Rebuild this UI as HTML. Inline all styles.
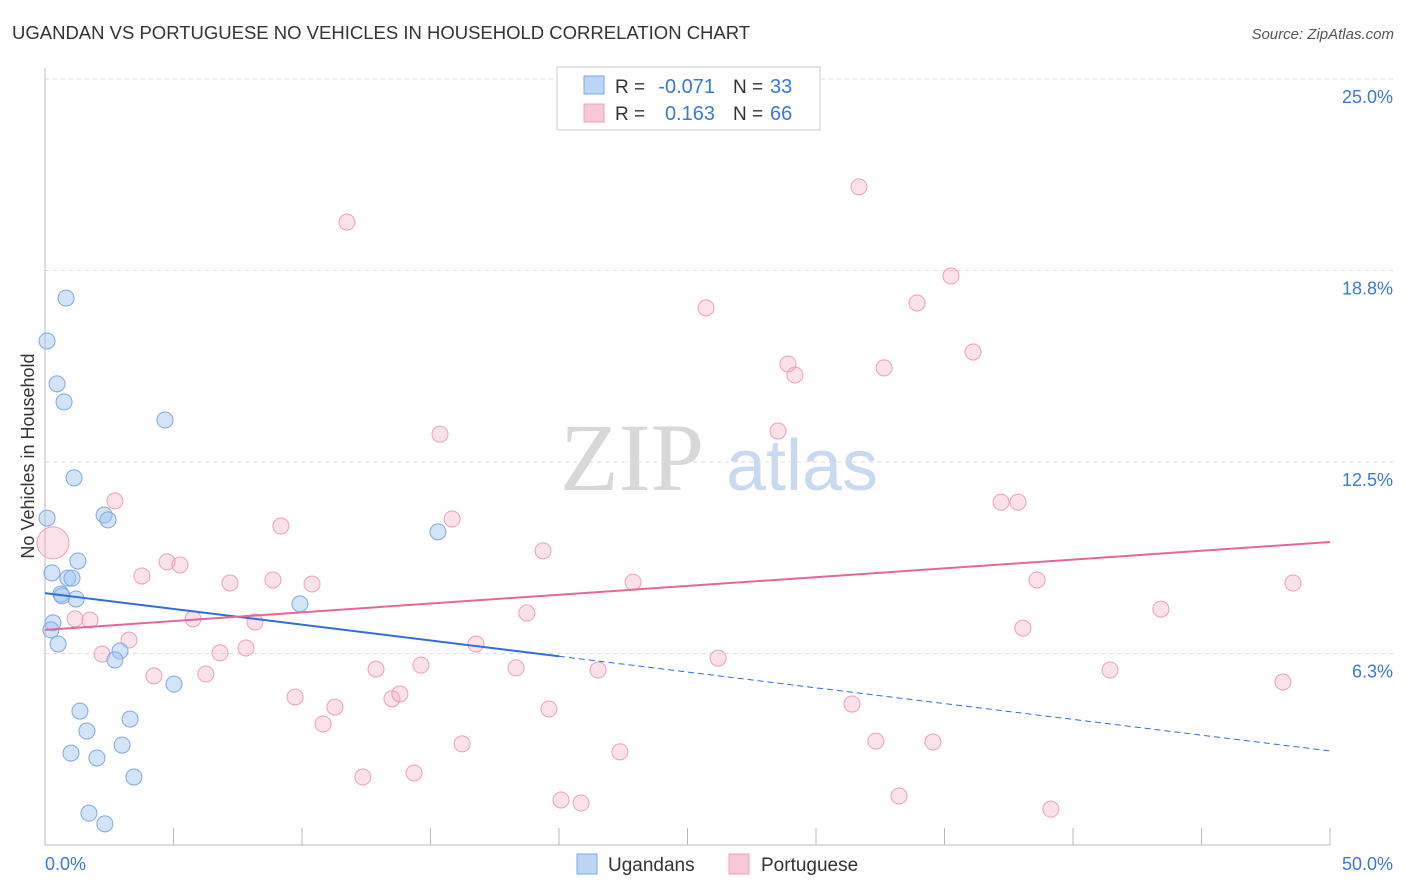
<!DOCTYPE html>
<html><head><meta charset="utf-8">
<style>
body{margin:0;background:#fff;font-family:"Liberation Sans",sans-serif;}
svg{display:block}
</style></head>
<body>
<svg id="c" width="1406" height="892" xmlns="http://www.w3.org/2000/svg">
<text x="12" y="39" font-size="18.5" fill="#333">UGANDAN VS PORTUGUESE NO VEHICLES IN HOUSEHOLD CORRELATION CHART</text>
<text x="1394" y="39" font-size="15" fill="#555" font-style="italic" text-anchor="end">Source: ZipAtlas.com</text>
<g>
<text x="632" y="490" font-size="96" font-family="Liberation Serif,serif" fill="#d8d8d8" text-anchor="middle">ZIP</text>
<text x="802" y="490" font-size="72" fill="#c9d9ef" text-anchor="middle">atlas</text>
</g>
<g id="grid"></g>
<g id="marks"></g>
<text transform="translate(34,456) rotate(-90)" font-size="18" fill="#333" text-anchor="middle">No Vehicles in Household</text>
<g>
<rect x="557" y="67" width="263" height="63" fill="#fff" stroke="#ccc"/>
<rect x="584" y="76" width="20" height="18" fill="#bcd4f5" stroke="#7fa8e0"/>
<rect x="584" y="104" width="20" height="18" fill="#f8c8d8" stroke="#eca0b9"/>
<text x="615" y="93" font-size="19" fill="#333">R =</text>
<text x="715" y="93" font-size="20" fill="#3a78d4" text-anchor="end">-0.071</text>
<text x="733" y="93" font-size="19" fill="#333">N =</text>
<text x="770" y="93" font-size="20" fill="#3a78d4">33</text>
<text x="615" y="120" font-size="19" fill="#333">R =</text>
<text x="715" y="120" font-size="20" fill="#3a78d4" text-anchor="end">0.163</text>
<text x="733" y="120" font-size="19" fill="#333">N =</text>
<text x="770" y="120" font-size="20" fill="#3a78d4">66</text>
</g>
<g>
<rect x="577" y="854" width="20" height="20" fill="#bcd4f5" stroke="#7fa8e0"/>
<text x="608" y="871" font-size="19" fill="#333">Ugandans</text>
<rect x="729" y="854" width="20" height="20" fill="#f8c8d8" stroke="#eca0b9"/>
<text x="761" y="871" font-size="19" fill="#333">Portuguese</text>
</g>
</svg>
<script>
const blueX=[0.82,0.08,0.47,0.74,4.67,1.13,0.08,2.30,2.45,1.28,0.27,0.89,1.05,0.62,1.21,9.92,0.31,0.23,0.51,2.92,2.72,5.02,1.36,3.31,1.63,3.00,1.01,2.02,3.46,1.71,2.33,15.29,0.66];
const blueY=[17.85,16.45,15.05,14.46,13.87,11.98,10.67,10.77,10.61,9.27,8.88,8.71,8.71,8.19,8.03,7.87,7.25,7.02,6.56,6.33,6.04,5.25,4.37,4.11,3.72,3.26,3.00,2.84,2.22,1.04,0.69,10.22,8.13];
const pinkX=[0.31,11.75,31.67,35.25,25.72,33.93,36.11,28.91,29.18,32.65,15.37,28.52,37.20,37.86,2.72,9.18,15.84,19.38,4.75,5.25,3.77,7.20,8.87,10.39,22.88,38.60,48.56,18.75,43.42,5.76,8.17,1.17,1.75,3.27,38.05,2.22,6.81,7.82,16.77,26.19,4.24,6.26,12.88,14.63,18.33,21.52,41.44,48.17,9.73,13.50,13.81,11.28,10.82,19.61,31.40,16.23,22.37,32.33,34.55,12.37,14.36,20.08,20.86,33.23,39.14];
const pinkY=[9.86,20.33,21.48,18.57,17.53,17.69,16.09,15.70,15.34,15.57,13.41,13.51,11.19,11.19,11.23,10.41,10.64,9.60,9.24,9.14,8.78,8.55,8.65,8.52,8.58,8.65,8.55,7.57,7.70,7.38,7.28,7.38,7.34,6.69,7.08,6.23,6.27,6.43,6.56,6.10,5.52,5.58,5.74,5.87,5.78,5.71,5.71,5.32,4.83,4.77,4.93,4.50,3.95,4.44,4.60,3.30,3.04,3.39,3.36,2.22,2.35,1.47,1.37,1.60,1.17];
const yTicks=[6.25,12.5,18.75,25.0];
const yTickLabels=['6.3%','12.5%','18.8%','25.0%'];
const xTickVals=[0,5,10,15,20,25,30,35,40,45,50];
const blueTrend=[8.22,-0.103];
const pinkTrend=[7.02,0.0574];
const NS="http://www.w3.org/2000/svg";
const sx=v=>45+v*25.7, sy=v=>845-v*30.64;
function mk(t,a,p){const e=document.createElementNS(NS,t);for(const k in a)e.setAttribute(k,a[k]);p.appendChild(e);return e;}
const g=document.getElementById('grid'), m=document.getElementById('marks');
yTicks.forEach((v,i)=>{
 const l=mk('line',{x1:45,x2:1395,y1:sy(v),y2:sy(v),stroke:'#ddd','stroke-dasharray':'4,4'},g);
 
 
 const t=mk('text',{x:1393,y:sy(v)+24,'font-size':18,fill:'#3a78d4','text-anchor':'end'},g);
 t.textContent=yTickLabels[i];
 
 
});
const ya=mk('line',{x1:45,x2:45,y1:68,y2:845,stroke:'#bbb'},g);


const xa=mk('line',{x1:45,x2:1330,y1:845,y2:845,stroke:'#bbb'},g);


xTickVals.forEach(v=>{
 const l=mk('line',{x1:sx(v),x2:sx(v),y1:828,y2:845,stroke:'#bbb'},g);
 
 
});
[[0,'0.0%','start',45],[50,'50.0%','end',1393]].forEach(d=>{
 const t=mk('text',{x:d[3],y:870,'font-size':18,fill:'#3a78d4','text-anchor':d[2]},g);
 t.textContent=d[1];
 
 
});
pinkX.forEach((x,i)=>{
 const c=mk('circle',{cx:sx(x),cy:sy(pinkY[i]),r:i===0?16:8,fill:'rgba(244,170,196,0.35)',stroke:'#eca0b9','stroke-width':1},m);
 
 
});
blueX.forEach((x,i)=>{
 const c=mk('circle',{cx:sx(x),cy:sy(blueY[i]),r:8,fill:'rgba(160,196,240,0.45)',stroke:'#7fa8e0','stroke-width':1},m);
 
 
});
const bt=x=>blueTrend[0]+blueTrend[1]*x, pt=x=>pinkTrend[0]+pinkTrend[1]*x;
const l1=mk('line',{x1:sx(0),y1:sy(bt(0)),x2:sx(20),y2:sy(bt(20)),stroke:'#2f6fd6','stroke-width':2},m);


const l2=mk('line',{x1:sx(20),y1:sy(bt(20)),x2:sx(50),y2:sy(bt(50)),stroke:'#2f6fd6','stroke-width':1,'stroke-dasharray':'6,4'},m);


const l3=mk('line',{x1:sx(0),y1:sy(pt(0)),x2:sx(50),y2:sy(pt(50)),stroke:'#e5679a','stroke-width':2},m);


</script>
</body></html>
